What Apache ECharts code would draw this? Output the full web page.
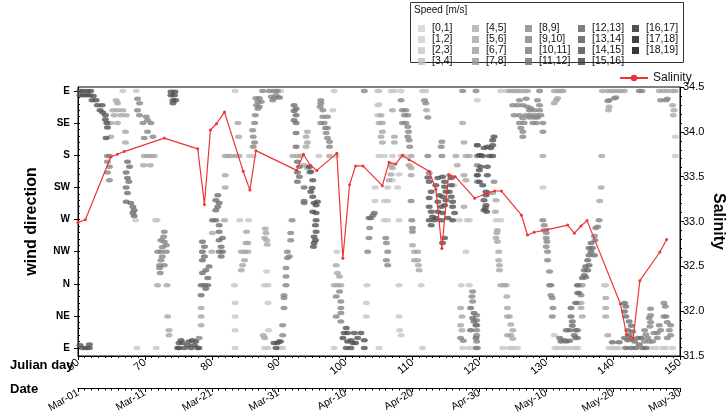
<!DOCTYPE html>
<html>
<head>
<meta charset="utf-8">
<script src="https://cdn.jsdelivr.net/npm/echarts@6/dist/echarts.min.js"></script>
<style>
  html, body { margin: 0; padding: 0; background: #fff; }
  #chart { width: 726px; height: 416px; }
</style>
</head>
<body>
<div id="chart"></div>
<script>
// speed classes (m/s) of the legend, light to dark
const speedBins = ['[0,1]', '[1,2]', '[2,3]', '[3,4]', '[4,5]', '[5,6]', '[6,7]', '[7,8]', '[8,9]', '[9,10]',
  '[10,11]', '[11,12]', '[12,13]', '[13,14]', '[14,15]', '[15,16]', '[16,17]', '[17,18]', '[18,19]'];
const speedColors = ['#d2d2d2', '#cdcdcd', '#c6c6c6', '#bfbfbf', '#adadad', '#a6a6a6', '#9e9e9e', '#969696',
  '#868686', '#7f7f7f', '#787878', '#6e6e6e', '#5c5c5c', '#535353', '#484848', '#3c3c3c', '#252525', '#141414', '#030303'];

// wind direction axis, degrees counter-clockwise from east
const dirTicks = [0, 45, 90, 135, 180, 225, 270, 315, 360];
const dirLabels = ['E', 'NE', 'N', 'NW', 'W', 'SW', 'S', 'SE', 'E'];

// salinity samples
const salDay = [60.0, 61.1, 64.9, 65.9, 66.9, 72.9, 77.9, 78.9, 79.8, 80.7, 81.9, 84.7, 85.7, 86.6, 92.7, 93.7,
  94.7, 95.7, 98.7, 99.6, 100.6, 101.5, 102.6, 105.5, 106.5, 107.5, 108.5, 109.5, 112.5, 113.5, 114.4, 115.4,
  116.4, 119.3, 121.3, 122.3, 123.3, 126.3, 127.2, 128.2, 130.2, 133.2, 134.2, 135.2, 136.1, 141.1, 142.0,
  143.0, 144.0, 147.0, 148.0];
const salValue = [32.99, 33.02, 33.72, 33.75, 33.78, 33.93, 33.81, 33.19, 34.02, 34.09, 34.22, 33.56, 33.35, 33.79,
  33.57, 33.75, 33.63, 33.57, 33.76, 32.59, 33.41, 33.62, 33.62, 33.40, 33.66, 33.64, 33.74, 33.69, 33.56, 33.36,
  32.70, 33.52, 33.50, 33.26, 33.32, 33.34, 33.34, 33.07, 32.85, 32.88, 32.91, 32.96, 32.87, 32.95, 33.01, 32.08,
  31.74, 31.70, 32.34, 32.66, 32.80];

// wind observations [julian day, direction], grouped by speed class
const wind2to3 = [[66.7,360],[68.7,360],[68.6,179],[71.6,179],[71.8,179],[68.8,0],[71.7,0],
  [83.5,360],[85.6,269],[86.2,269],[84.2,179],[85.5,179],[83.4,88],[83.5,63],[83.5,44],[83.5,25],[83.5,0],
  [88.2,107],[87.9,88],[88.4,88],[88.4,63],[88.5,25],[87.9,0],[88.4,0],
  [89.8,360],[90.3,360],[96.0,269],[98.1,333],[98.3,360],[98.6,269],[90.1,0],[90.6,0],[98.7,135],[98.3,0],
  [103.2,88],[103.1,63],[103.1,44],[104.4,225],[104.4,206],[104.8,360],[104.8,340],[104.8,326],
  [105.0,360],[106.8,360],[107.3,360],[108.3,360],[111.5,360],[112.0,360],[105.0,341],[105.0,269],[105.8,269],
  [107.0,269],[108.3,269],[108.8,269],[108.0,243],[107.0,235],[107.8,225],[106.3,225],[105.8,206],[106.3,206],
  [105.8,179],[106.3,179],[108.0,179],[111.3,88],[108.0,88],[108.0,44],[108.1,25],[108.3,18],[105.0,0],[111.5,0],
  [117.0,179],[118.2,179],[118.5,179],[118.0,135],[117.3,88],[118.5,88],[117.5,0],[118.5,0],[115.5,242],[116.2,228],
  [119.7,347],[123.2,360],[124.0,360],[122.5,179],[123.2,179],[123.5,0],[124.5,0],[125.0,0],[125.7,0],[129.5,225],
  [131.3,0],[131.7,0],[132.4,0],[133.0,0],[133.7,0],[134.4,0],[131.2,18],
  [149.3,296],[149.3,269],[138.7,88],[138.9,88],[134.7,0],[139.4,0],[139.9,0],[140.4,0],[140.9,0],[148.9,0],
  [147.9,0],[147.4,0],[146.4,0],[145.6,0]];

const wind5to6 = [[65.7,347],[65.9,343],[65.2,333],[65.9,333],[66.7,333],[65.4,326],[66.4,326],[67.2,326],
  [64.9,315],[65.9,315],[67.1,303],[67.1,288],[64.9,296],[69.8,256],[70.8,256],[69.9,269],[70.4,269],[70.9,269],
  [71.4,269],[71.9,88],[73.3,88],[73.4,44],[73.6,25],[73.6,18],
  [78.4,56],[78.4,44],[78.4,32],[80.0,135],[81.9,179],[80.1,161],[82.0,269],[82.4,269],[82.9,269],[83.6,269],
  [84.1,269],[82.0,242],[82.0,225],[83.9,315],[84.0,296],[85.2,163],[85.1,147],[85.4,147],[84.4,135],[84.9,135],
  [85.4,135],[84.9,123],[84.6,116],[84.4,109],[88.0,167],[88.1,161],[87.9,154],[88.2,151],[88.3,145],[87.7,18],[87.9,14],
  [94.3,303],[94.1,296],[94.3,288],[94.1,282],[93.8,256],[94.3,252],[94.6,246],[92.1,269],[92.8,269],[93.3,269],
  [97.6,269],[98.6,116],[98.8,105],[99.1,100],[98.3,88],[98.8,88],[99.3,88],
  [105.3,326],[105.5,315],[105.0,315],[105.5,303],[105.3,296],[105.5,288],[106.8,256],[107.0,252],[106.8,243],
  [106.5,235],[107.0,333],[107.3,296],[107.3,288],[109.8,269],[109.5,256],[109.8,252],[109.8,242],[110.0,144],
  [110.3,135],[110.8,135],[110.3,123],[110.8,123],[110.9,116],[111.0,109],[112.1,333],[116.5,269],[116.7,256],
  [118.0,269],[118.5,269],[117.7,242],[118.0,235],[117.7,198],[117.5,315],[117.7,288],[117.2,56],[117.4,44],
  [117.2,32],[117.4,25],
  [124.5,360],[125.0,360],[125.5,360],[126.0,360],[126.7,360],[127.2,360],[131.2,360],[131.7,360],[132.2,360],
  [132.5,360],[131.5,347],[131.2,343],[131.7,350],[129.5,269],[121.5,217],[122.0,217],[122.5,207],[122.4,191],
  [122.7,165],[122.6,161],[122.5,154],[122.7,149],[122.9,135],[122.9,123],[123.0,116],[123.0,109],[123.2,88],
  [123.7,88],[124.0,88],[124.1,72],[124.2,56],[124.2,44],[124.5,44],[124.7,33],[125.0,25],[124.7,18],[124.2,18],[125.0,13],
  [138.4,360],[139.2,360],[139.7,360],[140.2,360],[140.7,360],[141.2,360],[141.7,360],[146.9,360],[147.5,360],
  [148.1,360],[148.9,360],[149.3,360],[139.4,338],[139.3,333],[148.9,340],[149.1,333],[149.0,326],[138.3,269],
  [138.2,225],[138.0,206],[134.7,88],[135.2,88],[135.4,88],[134.7,63],[135.2,63],[135.2,56],[135.4,44],[138.9,70],
  [138.9,56],[138.9,44],[139.2,18]];

const wind8to9 = [[64.4,269],[64.7,269],[64.4,261],[64.7,254],[64.4,246],[64.7,235],
  [68.9,349],[69.2,343],[68.9,333],[69.2,326],[70.2,324],[70.4,319],[69.7,315],[70.9,315],[70.4,303],[69.9,294],[71.2,296],
  [72.9,163],[72.8,156],[72.4,151],[72.9,149],[73.2,144],[72.6,141],[71.9,135],[72.4,135],[73.2,135],[72.6,128],
  [72.4,123],[72.2,116],[72.9,116],[72.2,112],[72.3,105],
  [78.1,14],[86.6,350],[87.1,350],[86.9,345],[87.4,345],[86.7,340],[87.1,338],[86.9,335],[86.5,326],[86.4,315],
  [86.1,305],[86.2,296],[86.4,288],[86.2,282],[87.6,360],[88.6,360],[89.3,360],[89.8,360],[88.9,352],[89.3,350],
  [89.1,347],[89.6,354],
  [96.3,347],[96.3,343],[96.2,338],[96.6,333],[96.6,324],[97.3,324],[96.3,315],[96.8,315],[97.0,308],[97.3,308],
  [97.1,301],[97.3,294],[97.6,289],[97.6,282],[92.0,179],[91.8,161],[91.8,151],[91.3,135],[91.6,128],[91.3,126],
  [91.1,112],[91.1,100],[91.1,88],[90.8,74],[90.8,70],[90.8,56],[90.6,32],[90.6,18],[90.3,9],
  [99.1,79],[98.6,72],[99.3,65],[99.3,56],[99.3,49],[98.6,44],[99.3,37],[102.8,360],[103.6,168],[103.5,154],[103.3,135],
  [117.5,360],[119.5,360],[111.8,347],[112.0,343],[112.3,323],[106.0,154],[106.1,147],[106.3,135],[106.1,123],[106.3,116],
  [108.3,347],[108.5,333],[109.0,333],[108.8,326],[109.3,326],[108.5,315],[109.0,315],[109.3,310],[109.4,303],
  [109.3,296],[109.5,291],[109.6,282],[109.8,206],[109.9,179],[110.0,168],[110.0,163],[112.3,269],[112.5,245],
  [114.4,289],[114.3,282],[114.4,269],[119.7,284],[119.7,269],[119.7,256],[119.7,242],[119.7,233],[119.0,79],
  [118.9,72],[119.0,65],[117.2,14],[117.6,10],[119.5,0],
  [129.0,360],[126.0,347],[127.0,349],[125.0,340],[125.7,340],[126.5,340],[127.2,338],[127.7,336],[127.5,333],
  [128.2,333],[129.0,333],[125.2,326],[126.0,326],[127.0,326],[127.7,326],[128.5,326],[129.2,326],[126.5,322],
  [127.5,323],[128.2,323],[128.7,323],[126.0,315],[126.7,315],[128.0,315],[128.5,315],[129.5,315],[126.2,308],
  [126.5,303],[129.5,303],[126.5,296],[128.7,347],[129.0,340],[122.2,233],
  [119.6,46],[119.6,39],[119.6,32],[119.6,25],[119.6,18],[119.6,9],[119.7,0],
  [129.5,179],[129.7,172],[129.7,165],[130.0,161],[130.0,154],[130.1,149],[130.0,142],[130.2,135],[130.2,123],
  [130.5,107],[130.5,88],[130.7,88],[130.7,74],[130.9,70],[131.0,56],[130.9,44],
  [143.9,360],[144.3,360],[139.2,346],[139.4,347],[140.2,350],[140.4,351],[147.1,347],[147.9,347],[148.1,349],
  [137.9,179],[137.7,170],[137.4,168],[137.2,157],[137.3,151],[134.9,77],[135.2,74],[134.7,25],[134.7,14],
  [144.7,25],[144.9,19],[145.2,14],[144.7,9],[145.4,9],[145.9,9],[146.1,21],[146.6,21],[146.6,14],[145.6,55],
  [145.6,46],[145.4,42],[145.6,36],[145.5,30],[146.9,32],[147.1,25],[147.6,63],[147.8,58],[147.6,44],[147.9,44],
  [148.1,36],[148.6,32],[148.4,25],[148.6,18],[148.1,14]];

const wind11to12 = [[67.4,261],[67.7,254],[67.2,246],[67.4,238],[67.6,233],[67.2,225],[67.4,217],[67.2,205],
  [67.9,203],[68.2,198],[68.4,193],[68.2,189],[68.4,185],
  [78.6,149],[78.9,142],[78.6,135],[78.9,128],[78.6,123],[79.1,109],[78.6,105],[79.6,114],[79.4,98],[78.4,88],
  [78.9,88],[79.4,88],[79.1,83],[78.4,74],[78.1,0],
  [80.9,214],[80.6,207],[81.1,203],[80.9,198],[80.6,193],[80.1,179],[80.6,179],[81.1,172],[81.1,163],[81.1,151],
  [81.6,154],[81.4,142],[81.1,135],[81.6,135],[81.4,128],
  [90.1,351],[92.3,340],[92.6,335],[92.3,332],[92.6,326],[92.3,319],[92.6,315],[92.6,301],[92.6,282],[92.8,261],
  [93.1,254],[92.8,246],[93.1,240],[92.8,233],[93.8,225],[93.8,206],[93.8,203],[103.5,182],[103.8,182],[104.1,186],[104.3,189],
  [118.7,56],[119.2,49],[119.0,42],[119.2,37],[119.5,32],[118.7,25],[119.5,14],
  [133.7,56],[133.7,44],[133.9,37],[133.5,25],[133.0,25],[133.9,31],[134.4,25],[134.2,18],[134.4,14],[132.7,11],
  [132.2,9],[133.0,9],[133.5,10],[132.0,14],[134.7,88],[134.7,77],[134.4,63],
  [136.7,147],[136.4,140],[136.7,135],[136.9,140],[136.4,130],[137.2,130],[136.2,123],[136.4,116],[135.9,114],
  [135.7,109],[136.2,109],[135.7,102],[135.9,99],[135.4,98],[139.9,8],[140.9,8],
  [141.7,63],[141.9,58],[141.7,51],[141.9,44],[142.4,37],[142.7,31],[142.2,25],[141.7,14],[142.2,11],[142.7,13],
  [143.2,9],[142.9,23],[142.4,18],[143.7,14],[144.2,14],[143.9,5],[143.4,0],[144.4,0],[144.9,0],[141.9,0],[142.7,0]];

const wind13to14 = [[60.3,360],[60.8,360],[61.4,360],[61.9,360],[60.3,354],[60.8,354],[61.3,354],[61.7,354],
  [62.3,353],[62.1,347],[62.7,347],[62.9,340],[63.6,340],[63.3,333],[63.7,330],[64.1,326],[64.1,320],[64.3,315],
  [64.4,309],[64.2,294],[73.9,359],[74.5,359],[73.9,354],[74.4,354],[74.2,347],[74.6,347],[74.2,343],
  [60.3,4],[60.7,0],[61.2,0],[61.7,5],[61.7,0],[74.9,0],[75.1,7],
  [75.1,0],[75.6,7],[75.9,0],[76.4,4],[76.6,9],[76.9,0],[77.4,4],[77.6,9],[77.9,0],[75.4,11],[77.1,11],
  [89.3,7],[89.6,0],[90.1,9],[89.8,7],
  [94.6,254],[94.8,247],[95.1,235],[95.0,224],[94.8,219],[95.1,212],[95.3,203],[95.8,205],[95.6,200],[95.1,191],
  [95.6,189],[95.6,179],[95.5,172],[95.6,163],[95.3,156],[95.5,151],[95.3,147],[95.2,142],
  [100.1,28],[99.8,21],[100.3,21],[99.6,14],[100.3,9],[100.8,11],[101.3,21],[101.8,14],[102.3,21],[102.8,11],
  [101.1,7],[101.5,7],[100.1,0],[100.8,0],[102.8,0],
  [112.3,239],[112.5,233],[112.8,219],[112.5,210],[112.5,198],[112.8,191],[113.0,184],[112.5,179],[113.3,179],
  [112.8,172],[113.8,238],[113.5,228],[114.0,214],[113.8,205],[114.3,198],[113.8,191],[113.5,182],[114.3,179],
  [114.5,240],[114.8,233],[114.8,226],[115.0,219],[114.5,212],[115.0,207],[114.8,200],[114.5,189],[114.8,154],
  [114.5,147],[115.8,238],[115.8,228],[115.5,219],[115.8,212],[116.0,205],[116.0,198],[116.3,189],[116.0,179],[115.3,182],
  [119.7,284],[120.0,270],[120.2,270],[120.5,269],[120.7,280],[121.2,282],[121.7,280],[122.0,284],[121.5,269],
  [122.0,269],[122.2,296],[122.0,291],[121.2,254],[120.2,254],[120.0,249],[119.7,242],[120.0,233],[120.5,228],
  [121.2,242],[121.0,219],[121.0,214],[120.7,207],[121.0,200],[120.9,196],[121.1,191],[120.7,193]];

// which speed class each observation group belongs to
const windByBin = { 2: wind2to3, 5: wind5to6, 8: wind8to9, 11: wind11to12, 13: wind13to14 };

const fontFamily = '"Liberation Sans", Arial, sans-serif';
const chart = echarts.init(document.getElementById('chart'));

function dayToDate (day) {
  const d = new Date(2019, 0, day);
  const months = ['Jan', 'Feb', 'Mar', 'Apr', 'May', 'Jun', 'Jul', 'Aug', 'Sep', 'Oct', 'Nov', 'Dec'];
  return months[d.getMonth()] + '-' + String(d.getDate()).padStart(2, '0');
}

const minorDirTicks = [];
for (let v = 0; v <= 360; v += 9) minorDirTicks.push(v);

const speedSeries = speedBins.map((label, i) => ({
  name: label,
  type: 'scatter',
  xAxisIndex: 0,
  yAxisIndex: 0,
  data: windByBin[i] || [],
  symbol: 'circle',
  symbolSize: [7, 4.5],
  silent: true,
  itemStyle: { color: speedColors[i] },
  z: 2
}));

const legendCols = [413, 467, 520, 573, 627];
const speedLegends = legendCols.map((left, c) => ({
  orient: 'vertical',
  left: left,
  top: 18,
  data: speedBins.slice(c * 4, c * 4 + 4),
  icon: 'rect',
  itemWidth: 7,
  itemHeight: 7,
  itemGap: 0,
  selectedMode: false,
  textStyle: { fontSize: 10.5, lineHeight: 9.7, color: '#111', fontFamily: fontFamily, padding: [0, 0, 0, 2] }
}));

const option = {
  animation: false,
  textStyle: { fontFamily: fontFamily },
  grid: {
    left: 78, right: 46, top: 87, bottom: 60,
    outerBoundsMode: 'none',
    containLabel: false,
    show: true, borderColor: '#000', borderWidth: 1, backgroundColor: 'transparent'
  },
  graphic: [
    { type: 'rect', shape: { x: 410.5, y: 2.5, width: 273, height: 60 }, style: { fill: '#fff', stroke: '#333', lineWidth: 1 }, z: 0 },
    { type: 'text', left: 414, top: 5, style: { text: 'Speed [m/s]', fontSize: 10, fill: '#111', fontFamily: fontFamily }, z: 1 },
    { type: 'text', left: 10, top: 359, style: { text: 'Julian day', fontSize: 13, fontWeight: 'bold', fill: '#000', fontFamily: fontFamily } },
    { type: 'text', left: 10, top: 383, style: { text: 'Date', fontSize: 13, fontWeight: 'bold', fill: '#000', fontFamily: fontFamily } }
  ],
  legend: speedLegends.concat([{
    data: ['Salinity'],
    left: 614,
    top: 67,
    itemWidth: 28,
    itemHeight: 8,
    selectedMode: false,
    textStyle: { fontSize: 12, color: '#111', fontFamily: fontFamily }
  }]),
  xAxis: [{
    type: 'value',
    min: 60, max: 150, interval: 10,
    position: 'bottom',
    axisLine: { onZero: false, lineStyle: { color: '#000', width: 1 } },
    axisTick: { length: 4, lineStyle: { color: '#000' } },
    minorTick: { show: true, splitNumber: 10, length: 2, lineStyle: { color: '#000' } },
    axisLabel: { rotate: 40, fontSize: 11, color: '#000', margin: 5 },
    splitLine: { show: false }
  }, {
    type: 'value',
    min: 60, max: 150, interval: 10,
    position: 'bottom',
    offset: 32,
    axisLine: { onZero: false, lineStyle: { color: '#000', width: 1.2 } },
    axisTick: { length: 4, lineStyle: { color: '#000' } },
    minorTick: { show: true, splitNumber: 10, length: 2.5, lineStyle: { color: '#000' } },
    axisLabel: { rotate: 30, fontSize: 10.5, color: '#000', margin: 4, formatter: v => dayToDate(v) },
    splitLine: { show: false }
  }],
  yAxis: [{
    type: 'value',
    min: -11.2, max: 365.6,
    position: 'left',
    name: 'wind direction',
    nameLocation: 'middle',
    nameRotate: 90,
    nameGap: 38,
    nameMoveOverlap: false,
    nameTextStyle: { fontSize: 16, fontWeight: 'bold', color: '#000' },
    axisLine: { onZero: false, lineStyle: { color: '#000', width: 1 } },
    axisTick: { customValues: dirTicks, length: 4, lineStyle: { color: '#000' } },
    axisLabel: {
      customValues: dirTicks,
      formatter: v => dirLabels[dirTicks.indexOf(v)],
      fontSize: 10, fontWeight: 'bold', color: '#000', margin: 8
    },
    splitLine: { show: false }
  }, {
    type: 'value',
    min: 31.5, max: 34.5, interval: 0.5,
    position: 'right',
    name: 'Salinity',
    nameLocation: 'middle',
    nameRotate: -90,
    nameGap: 30,
    nameMoveOverlap: false,
    nameTextStyle: { fontSize: 16, fontWeight: 'bold', color: '#000' },
    axisLine: { onZero: false, lineStyle: { color: '#000', width: 1 } },
    axisTick: { length: 4, lineStyle: { color: '#000' } },
    minorTick: { show: true, splitNumber: 5, length: 2, lineStyle: { color: '#000' } },
    axisLabel: { fontSize: 11, color: '#000', margin: 3, formatter: v => v.toFixed(1) },
    splitLine: { show: false }
  }, {
    type: 'value',
    min: -11.2, max: 365.6,
    position: 'left',
    axisLine: { show: false },
    axisTick: { customValues: minorDirTicks, inside: true, length: 2, lineStyle: { color: '#000' } },
    axisLabel: { show: false },
    splitLine: { show: false }
  }],
  series: speedSeries.concat([{
    name: 'Salinity',
    type: 'line',
    xAxisIndex: 0,
    yAxisIndex: 1,
    data: salDay.map((d, i) => [d, salValue[i]]),
    symbol: 'circle',
    symbolSize: 3,
    lineStyle: { color: '#ee3434', width: 1.2 },
    itemStyle: { color: '#ee3434' },
    z: 5
  }])
};

chart.setOption(option);
</script>
</body>
</html>
